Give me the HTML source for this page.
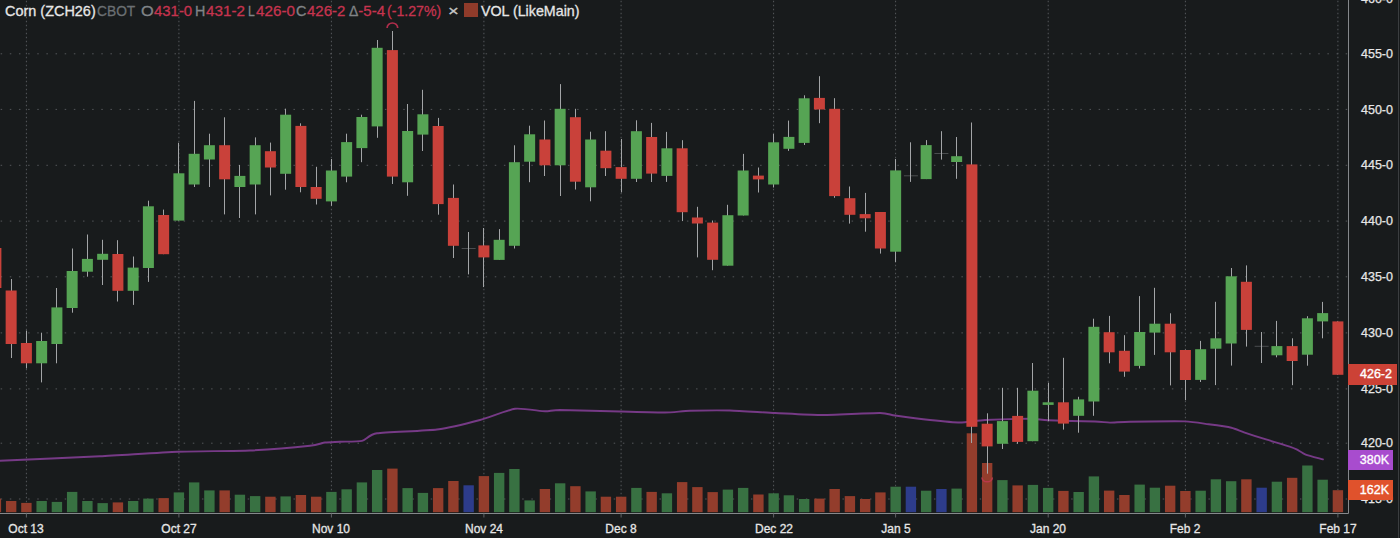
<!DOCTYPE html>
<html><head><meta charset="utf-8"><style>
html,body{margin:0;padding:0;background:#181b1c;}
body{width:1400px;height:538px;overflow:hidden;position:relative;font-family:"Liberation Sans",sans-serif;}
svg{position:absolute;left:0;top:0;}
.hs{position:absolute;top:2.3px;font-size:15px;line-height:17px;white-space:nowrap;transform-origin:0 0;-webkit-text-stroke:0.3px currentColor;}
.sw{position:absolute;left:464px;top:2.6px;width:14px;height:14px;background:#8f3b2a}
.pl{position:absolute;left:1349px;width:44px;text-align:right;font-size:12.5px;line-height:16px;color:#e6e6e6;-webkit-text-stroke:0.25px #e6e6e6;}
.dl{position:absolute;top:520.5px;width:80px;text-align:center;font-size:12.5px;line-height:16px;color:#e6e6e6;-webkit-text-stroke:0.3px #e6e6e6;transform:scaleX(0.96);}
.tag{position:absolute;left:1348px;width:49px;height:21px;color:#fff;font-size:12.5px;line-height:21px;text-align:right;box-sizing:border-box;padding-right:5px;-webkit-text-stroke:0.35px #fff}
</style></head><body>
<svg width="1400" height="538" viewBox="0 0 1400 538">
<g stroke="#54575a" stroke-width="1" stroke-dasharray="1.5 7.65" stroke-dashoffset="-0.65">
<line x1="0" y1="53.8" x2="1348" y2="53.8" />
<line x1="0" y1="109.4" x2="1348" y2="109.4" />
<line x1="0" y1="165.3" x2="1348" y2="165.3" />
<line x1="0" y1="221.1" x2="1348" y2="221.1" />
<line x1="0" y1="276.8" x2="1348" y2="276.8" />
<line x1="0" y1="332.9" x2="1348" y2="332.9" />
<line x1="0" y1="388.9" x2="1348" y2="388.9" />
<line x1="0" y1="443.2" x2="1348" y2="443.2" />
<line x1="0" y1="499.0" x2="1348" y2="499.0" />
</g>
<g stroke="#56595c" stroke-width="1" stroke-dasharray="1.5 2.5" stroke-dashoffset="-0.75">
<line x1="26.4" y1="0" x2="26.4" y2="513.5"/>
<line x1="178.9" y1="0" x2="178.9" y2="513.5"/>
<line x1="331.4" y1="0" x2="331.4" y2="513.5"/>
<line x1="483.9" y1="0" x2="483.9" y2="513.5"/>
<line x1="621.1" y1="0" x2="621.1" y2="513.5"/>
<line x1="773.6" y1="0" x2="773.6" y2="513.5"/>
<line x1="895.6" y1="0" x2="895.6" y2="513.5"/>
<line x1="1048.2" y1="0" x2="1048.2" y2="513.5"/>
<line x1="1185.4" y1="0" x2="1185.4" y2="513.5"/>
<line x1="1337.9" y1="0" x2="1337.9" y2="513.5"/>
</g>
<rect x="-9.30" y="498.6" width="10.4" height="13.6" fill="#933d2c"/>
<rect x="5.95" y="501.0" width="10.4" height="11.2" fill="#933d2c"/>
<rect x="21.20" y="502.9" width="10.4" height="9.3" fill="#933d2c"/>
<rect x="36.45" y="501.0" width="10.4" height="11.2" fill="#387142"/>
<rect x="51.70" y="501.9" width="10.4" height="10.3" fill="#387142"/>
<rect x="66.95" y="491.9" width="10.4" height="20.3" fill="#387142"/>
<rect x="82.20" y="501.0" width="10.4" height="11.2" fill="#387142"/>
<rect x="97.45" y="503.1" width="10.4" height="9.1" fill="#387142"/>
<rect x="112.70" y="502.4" width="10.4" height="9.8" fill="#933d2c"/>
<rect x="127.95" y="501.0" width="10.4" height="11.2" fill="#387142"/>
<rect x="143.20" y="498.6" width="10.4" height="13.6" fill="#387142"/>
<rect x="158.45" y="498.1" width="10.4" height="14.1" fill="#933d2c"/>
<rect x="173.70" y="492.4" width="10.4" height="19.8" fill="#387142"/>
<rect x="188.95" y="482.4" width="10.4" height="29.8" fill="#387142"/>
<rect x="204.20" y="490.4" width="10.4" height="21.8" fill="#387142"/>
<rect x="219.45" y="490.4" width="10.4" height="21.8" fill="#933d2c"/>
<rect x="234.70" y="494.7" width="10.4" height="17.5" fill="#387142"/>
<rect x="249.95" y="496.1" width="10.4" height="16.1" fill="#387142"/>
<rect x="265.20" y="496.7" width="10.4" height="15.5" fill="#933d2c"/>
<rect x="280.45" y="496.4" width="10.4" height="15.8" fill="#387142"/>
<rect x="295.70" y="495.0" width="10.4" height="17.2" fill="#933d2c"/>
<rect x="310.95" y="496.7" width="10.4" height="15.5" fill="#933d2c"/>
<rect x="326.20" y="491.9" width="10.4" height="20.3" fill="#387142"/>
<rect x="341.45" y="489.3" width="10.4" height="22.9" fill="#387142"/>
<rect x="356.70" y="482.4" width="10.4" height="29.8" fill="#387142"/>
<rect x="371.95" y="470.0" width="10.4" height="42.2" fill="#387142"/>
<rect x="387.20" y="468.6" width="10.4" height="43.6" fill="#933d2c"/>
<rect x="402.45" y="488.1" width="10.4" height="24.1" fill="#387142"/>
<rect x="417.70" y="492.9" width="10.4" height="19.3" fill="#387142"/>
<rect x="432.95" y="488.1" width="10.4" height="24.1" fill="#933d2c"/>
<rect x="448.20" y="481.0" width="10.4" height="31.2" fill="#933d2c"/>
<rect x="463.45" y="485.3" width="10.4" height="26.9" fill="#2d3c8b"/>
<rect x="478.70" y="476.1" width="10.4" height="36.1" fill="#933d2c"/>
<rect x="493.95" y="472.9" width="10.4" height="39.3" fill="#387142"/>
<rect x="509.20" y="469.0" width="10.4" height="43.2" fill="#387142"/>
<rect x="524.45" y="500.4" width="10.4" height="11.8" fill="#387142"/>
<rect x="539.70" y="489.0" width="10.4" height="23.2" fill="#933d2c"/>
<rect x="554.95" y="483.3" width="10.4" height="28.9" fill="#387142"/>
<rect x="570.20" y="486.2" width="10.4" height="26.0" fill="#933d2c"/>
<rect x="585.45" y="491.4" width="10.4" height="20.8" fill="#387142"/>
<rect x="600.70" y="496.7" width="10.4" height="15.5" fill="#933d2c"/>
<rect x="615.95" y="496.7" width="10.4" height="15.5" fill="#933d2c"/>
<rect x="631.20" y="487.9" width="10.4" height="24.3" fill="#387142"/>
<rect x="646.45" y="491.9" width="10.4" height="20.3" fill="#933d2c"/>
<rect x="661.70" y="493.3" width="10.4" height="18.9" fill="#387142"/>
<rect x="676.95" y="482.1" width="10.4" height="30.1" fill="#933d2c"/>
<rect x="692.20" y="487.1" width="10.4" height="25.1" fill="#933d2c"/>
<rect x="707.45" y="492.1" width="10.4" height="20.1" fill="#933d2c"/>
<rect x="722.70" y="489.6" width="10.4" height="22.6" fill="#387142"/>
<rect x="737.95" y="487.9" width="10.4" height="24.3" fill="#387142"/>
<rect x="753.20" y="494.5" width="10.4" height="17.7" fill="#933d2c"/>
<rect x="768.45" y="493.3" width="10.4" height="18.9" fill="#387142"/>
<rect x="783.70" y="495.3" width="10.4" height="16.9" fill="#387142"/>
<rect x="798.95" y="499.0" width="10.4" height="13.2" fill="#387142"/>
<rect x="814.20" y="498.6" width="10.4" height="13.6" fill="#933d2c"/>
<rect x="829.45" y="489.0" width="10.4" height="23.2" fill="#933d2c"/>
<rect x="844.70" y="496.1" width="10.4" height="16.1" fill="#933d2c"/>
<rect x="859.95" y="499.0" width="10.4" height="13.2" fill="#933d2c"/>
<rect x="875.20" y="492.4" width="10.4" height="19.8" fill="#933d2c"/>
<rect x="890.45" y="486.7" width="10.4" height="25.5" fill="#387142"/>
<rect x="905.70" y="486.7" width="10.4" height="25.5" fill="#2d3c8b"/>
<rect x="920.95" y="490.7" width="10.4" height="21.5" fill="#387142"/>
<rect x="936.20" y="489.0" width="10.4" height="23.2" fill="#2d3c8b"/>
<rect x="951.45" y="488.6" width="10.4" height="23.6" fill="#387142"/>
<rect x="966.70" y="433.3" width="10.4" height="78.9" fill="#933d2c"/>
<rect x="981.95" y="463.0" width="10.4" height="49.2" fill="#933d2c"/>
<rect x="997.20" y="480.1" width="10.4" height="32.1" fill="#387142"/>
<rect x="1012.45" y="485.4" width="10.4" height="26.8" fill="#933d2c"/>
<rect x="1027.70" y="484.9" width="10.4" height="27.3" fill="#387142"/>
<rect x="1042.95" y="487.9" width="10.4" height="24.3" fill="#387142"/>
<rect x="1058.20" y="490.9" width="10.4" height="21.3" fill="#933d2c"/>
<rect x="1073.45" y="492.0" width="10.4" height="20.2" fill="#387142"/>
<rect x="1088.70" y="476.4" width="10.4" height="35.8" fill="#387142"/>
<rect x="1103.95" y="490.6" width="10.4" height="21.6" fill="#933d2c"/>
<rect x="1119.20" y="495.0" width="10.4" height="17.2" fill="#933d2c"/>
<rect x="1134.45" y="484.6" width="10.4" height="27.6" fill="#387142"/>
<rect x="1149.70" y="487.7" width="10.4" height="24.5" fill="#387142"/>
<rect x="1164.95" y="485.7" width="10.4" height="26.5" fill="#933d2c"/>
<rect x="1180.20" y="491.0" width="10.4" height="21.2" fill="#933d2c"/>
<rect x="1195.45" y="490.7" width="10.4" height="21.5" fill="#387142"/>
<rect x="1210.70" y="479.3" width="10.4" height="32.9" fill="#387142"/>
<rect x="1225.95" y="481.2" width="10.4" height="31.0" fill="#387142"/>
<rect x="1241.20" y="479.3" width="10.4" height="32.9" fill="#933d2c"/>
<rect x="1256.45" y="487.7" width="10.4" height="24.5" fill="#2d3c8b"/>
<rect x="1271.70" y="481.7" width="10.4" height="30.5" fill="#387142"/>
<rect x="1286.95" y="477.8" width="10.4" height="34.4" fill="#933d2c"/>
<rect x="1302.20" y="465.5" width="10.4" height="46.7" fill="#387142"/>
<rect x="1317.45" y="479.7" width="10.4" height="32.5" fill="#387142"/>
<rect x="1332.70" y="490.2" width="10.4" height="22.0" fill="#933d2c"/>
<path d="M0.0,460.8 C10.0,460.4 82.2,457.2 100.0,456.3 C117.8,455.4 163.0,452.4 178.0,451.8 C193.0,451.2 236.8,451.1 250.0,450.5 C263.2,449.9 302.5,446.6 310.0,445.8 C317.5,445.0 322.0,442.9 325.0,442.5 C328.0,442.1 336.3,442.0 340.0,441.8 C343.7,441.6 358.3,441.7 362.0,440.8 C365.7,439.9 369.5,434.4 377.0,433.3 C384.5,432.2 426.7,430.8 437.0,429.5 C447.3,428.2 472.2,422.1 480.0,420.0 C487.8,417.9 508.5,409.7 515.0,408.8 C521.5,407.9 540.5,411.2 545.0,411.3 C549.5,411.4 552.5,410.0 560.0,410.0 C567.5,410.0 609.5,411.2 620.0,411.5 C630.5,411.8 658.0,412.6 665.0,412.5 C672.0,412.4 683.5,411.0 690.0,410.8 C696.5,410.6 721.5,410.3 730.0,410.5 C738.5,410.7 766.0,412.6 775.0,413.0 C784.0,413.4 809.5,415.0 820.0,415.0 C830.5,415.0 872.5,412.9 880.0,413.0 C887.5,413.1 890.0,414.8 895.0,415.5 C900.0,416.2 923.5,419.3 930.0,420.0 C936.5,420.7 954.5,422.5 960.0,422.5 C965.5,422.5 978.0,420.4 985.0,420.0 C992.0,419.6 1023.7,418.8 1030.0,418.8 C1036.3,418.8 1041.5,420.0 1048.0,420.3 C1054.5,420.6 1088.8,421.3 1095.0,421.5 C1101.2,421.7 1106.5,422.6 1110.0,422.6 C1113.5,422.6 1122.5,421.8 1130.0,421.7 C1137.5,421.6 1177.1,421.1 1185.0,421.4 C1192.9,421.7 1204.0,423.7 1208.6,424.3 C1213.2,424.9 1227.9,426.9 1231.4,427.7 C1234.9,428.5 1240.5,431.1 1244.0,432.3 C1247.5,433.5 1262.3,438.3 1266.9,439.7 C1271.5,441.1 1286.7,445.6 1289.7,446.6 C1292.7,447.6 1295.0,448.6 1296.6,449.4 C1298.2,450.2 1303.1,453.6 1305.7,454.6 C1308.3,455.6 1321.2,458.9 1322.9,459.4" fill="none" stroke="#763a86" stroke-width="1.9" stroke-linecap="round"/>
<line x1="-4.50" y1="244.0" x2="-4.50" y2="292.0" stroke="#a3a5a7" stroke-width="1"/>
<rect x="-9.60" y="248.0" width="11.0" height="40.0" fill="#c9413a"/>
<line x1="11.50" y1="279.0" x2="11.50" y2="358.0" stroke="#a3a5a7" stroke-width="1"/>
<rect x="5.65" y="290.5" width="11.0" height="53.5" fill="#c9413a"/>
<line x1="26.50" y1="330.6" x2="26.50" y2="368.4" stroke="#a3a5a7" stroke-width="1"/>
<rect x="20.90" y="343.0" width="11.0" height="20.3" fill="#c9413a"/>
<line x1="41.50" y1="332.7" x2="41.50" y2="382.4" stroke="#a3a5a7" stroke-width="1"/>
<rect x="36.15" y="341.0" width="11.0" height="22.3" fill="#56a454"/>
<line x1="56.50" y1="288.0" x2="56.50" y2="363.3" stroke="#a3a5a7" stroke-width="1"/>
<rect x="51.40" y="307.4" width="11.0" height="36.6" fill="#56a454"/>
<line x1="72.50" y1="248.5" x2="72.50" y2="312.7" stroke="#a3a5a7" stroke-width="1"/>
<rect x="66.65" y="271.0" width="11.0" height="37.0" fill="#56a454"/>
<line x1="87.50" y1="234.5" x2="87.50" y2="276.7" stroke="#a3a5a7" stroke-width="1"/>
<rect x="81.90" y="258.9" width="11.0" height="12.8" fill="#56a454"/>
<line x1="102.50" y1="239.8" x2="102.50" y2="285.0" stroke="#a3a5a7" stroke-width="1"/>
<rect x="97.15" y="253.8" width="11.0" height="6.0" fill="#56a454"/>
<line x1="117.50" y1="240.2" x2="117.50" y2="301.5" stroke="#a3a5a7" stroke-width="1"/>
<rect x="112.40" y="254.0" width="11.0" height="36.8" fill="#c9413a"/>
<line x1="133.50" y1="256.5" x2="133.50" y2="304.9" stroke="#a3a5a7" stroke-width="1"/>
<rect x="127.65" y="267.6" width="11.0" height="23.2" fill="#56a454"/>
<line x1="148.50" y1="200.7" x2="148.50" y2="281.9" stroke="#a3a5a7" stroke-width="1"/>
<rect x="142.90" y="206.3" width="11.0" height="61.7" fill="#56a454"/>
<line x1="163.50" y1="209.6" x2="163.50" y2="254.2" stroke="#a3a5a7" stroke-width="1"/>
<rect x="158.15" y="215.0" width="11.0" height="39.2" fill="#c9413a"/>
<line x1="178.50" y1="142.8" x2="178.50" y2="220.6" stroke="#a3a5a7" stroke-width="1"/>
<rect x="173.40" y="173.3" width="11.0" height="47.3" fill="#56a454"/>
<line x1="194.50" y1="100.9" x2="194.50" y2="187.0" stroke="#a3a5a7" stroke-width="1"/>
<rect x="188.65" y="153.8" width="11.0" height="30.7" fill="#56a454"/>
<line x1="209.50" y1="133.7" x2="209.50" y2="187.0" stroke="#a3a5a7" stroke-width="1"/>
<rect x="203.90" y="145.2" width="11.0" height="14.3" fill="#56a454"/>
<line x1="224.50" y1="117.3" x2="224.50" y2="214.4" stroke="#a3a5a7" stroke-width="1"/>
<rect x="219.15" y="145.2" width="11.0" height="34.1" fill="#c9413a"/>
<line x1="239.50" y1="165.0" x2="239.50" y2="218.0" stroke="#a3a5a7" stroke-width="1"/>
<rect x="234.40" y="175.9" width="11.0" height="11.1" fill="#56a454"/>
<line x1="255.50" y1="137.4" x2="255.50" y2="214.4" stroke="#a3a5a7" stroke-width="1"/>
<rect x="249.65" y="145.2" width="11.0" height="39.3" fill="#56a454"/>
<line x1="270.50" y1="142.6" x2="270.50" y2="195.4" stroke="#a3a5a7" stroke-width="1"/>
<rect x="264.90" y="151.2" width="11.0" height="16.3" fill="#c9413a"/>
<line x1="285.50" y1="108.7" x2="285.50" y2="189.7" stroke="#a3a5a7" stroke-width="1"/>
<rect x="280.15" y="114.7" width="11.0" height="59.1" fill="#56a454"/>
<line x1="300.50" y1="123.3" x2="300.50" y2="192.3" stroke="#a3a5a7" stroke-width="1"/>
<rect x="295.40" y="125.9" width="11.0" height="61.1" fill="#c9413a"/>
<line x1="316.50" y1="166.8" x2="316.50" y2="204.5" stroke="#a3a5a7" stroke-width="1"/>
<rect x="310.65" y="187.0" width="11.0" height="11.8" fill="#c9413a"/>
<line x1="331.50" y1="159.0" x2="331.50" y2="205.8" stroke="#a3a5a7" stroke-width="1"/>
<rect x="325.90" y="170.5" width="11.0" height="30.9" fill="#56a454"/>
<line x1="346.50" y1="133.7" x2="346.50" y2="182.3" stroke="#a3a5a7" stroke-width="1"/>
<rect x="341.15" y="142.1" width="11.0" height="34.5" fill="#56a454"/>
<line x1="361.50" y1="114.7" x2="361.50" y2="162.2" stroke="#a3a5a7" stroke-width="1"/>
<rect x="356.40" y="117.0" width="11.0" height="31.1" fill="#56a454"/>
<line x1="377.50" y1="40.0" x2="377.50" y2="137.8" stroke="#a3a5a7" stroke-width="1"/>
<rect x="371.65" y="47.8" width="11.0" height="78.6" fill="#56a454"/>
<line x1="392.50" y1="31.0" x2="392.50" y2="184.0" stroke="#a3a5a7" stroke-width="1"/>
<rect x="386.90" y="50.1" width="11.0" height="126.5" fill="#c9413a"/>
<line x1="407.50" y1="104.0" x2="407.50" y2="195.8" stroke="#a3a5a7" stroke-width="1"/>
<rect x="402.15" y="131.0" width="11.0" height="51.3" fill="#56a454"/>
<line x1="422.50" y1="89.8" x2="422.50" y2="151.0" stroke="#a3a5a7" stroke-width="1"/>
<rect x="417.40" y="114.3" width="11.0" height="20.3" fill="#56a454"/>
<line x1="438.50" y1="117.9" x2="438.50" y2="214.7" stroke="#a3a5a7" stroke-width="1"/>
<rect x="432.65" y="126.0" width="11.0" height="78.1" fill="#c9413a"/>
<line x1="453.50" y1="184.5" x2="453.50" y2="258.0" stroke="#a3a5a7" stroke-width="1"/>
<rect x="447.90" y="197.9" width="11.0" height="47.9" fill="#c9413a"/>
<line x1="461.65" y1="248.5" x2="475.65" y2="248.5" stroke="#4a4d4f" stroke-width="1"/>
<line x1="468.50" y1="232.0" x2="468.50" y2="274.4" stroke="#a3a5a7" stroke-width="1"/>
<line x1="483.50" y1="228.0" x2="483.50" y2="287.1" stroke="#a3a5a7" stroke-width="1"/>
<rect x="478.40" y="245.4" width="11.0" height="12.0" fill="#c9413a"/>
<line x1="499.50" y1="229.1" x2="499.50" y2="259.9" stroke="#a3a5a7" stroke-width="1"/>
<rect x="493.65" y="239.8" width="11.0" height="20.1" fill="#56a454"/>
<line x1="514.50" y1="145.3" x2="514.50" y2="248.5" stroke="#a3a5a7" stroke-width="1"/>
<rect x="508.90" y="162.2" width="11.0" height="83.6" fill="#56a454"/>
<line x1="529.50" y1="125.7" x2="529.50" y2="182.2" stroke="#a3a5a7" stroke-width="1"/>
<rect x="524.15" y="134.3" width="11.0" height="27.4" fill="#56a454"/>
<line x1="544.50" y1="120.5" x2="544.50" y2="176.0" stroke="#a3a5a7" stroke-width="1"/>
<rect x="539.40" y="139.5" width="11.0" height="25.8" fill="#c9413a"/>
<line x1="560.50" y1="84.1" x2="560.50" y2="196.0" stroke="#a3a5a7" stroke-width="1"/>
<rect x="554.65" y="108.8" width="11.0" height="56.5" fill="#56a454"/>
<line x1="575.50" y1="108.8" x2="575.50" y2="189.5" stroke="#a3a5a7" stroke-width="1"/>
<rect x="569.90" y="117.2" width="11.0" height="64.5" fill="#c9413a"/>
<line x1="590.50" y1="131.7" x2="590.50" y2="201.3" stroke="#a3a5a7" stroke-width="1"/>
<rect x="585.15" y="139.5" width="11.0" height="47.8" fill="#56a454"/>
<line x1="605.50" y1="131.2" x2="605.50" y2="176.0" stroke="#a3a5a7" stroke-width="1"/>
<rect x="600.40" y="150.7" width="11.0" height="17.5" fill="#c9413a"/>
<line x1="621.50" y1="139.0" x2="621.50" y2="192.4" stroke="#a3a5a7" stroke-width="1"/>
<rect x="615.65" y="167.1" width="11.0" height="11.7" fill="#c9413a"/>
<line x1="636.50" y1="120.3" x2="636.50" y2="182.0" stroke="#a3a5a7" stroke-width="1"/>
<rect x="630.90" y="131.2" width="11.0" height="47.6" fill="#56a454"/>
<line x1="651.50" y1="122.9" x2="651.50" y2="182.0" stroke="#a3a5a7" stroke-width="1"/>
<rect x="646.15" y="137.0" width="11.0" height="36.6" fill="#c9413a"/>
<line x1="666.50" y1="131.9" x2="666.50" y2="181.9" stroke="#a3a5a7" stroke-width="1"/>
<rect x="661.40" y="148.3" width="11.0" height="27.6" fill="#56a454"/>
<line x1="682.50" y1="140.2" x2="682.50" y2="221.1" stroke="#a3a5a7" stroke-width="1"/>
<rect x="676.65" y="148.3" width="11.0" height="63.9" fill="#c9413a"/>
<line x1="697.50" y1="206.8" x2="697.50" y2="257.4" stroke="#a3a5a7" stroke-width="1"/>
<rect x="691.90" y="217.5" width="11.0" height="6.0" fill="#c9413a"/>
<line x1="712.50" y1="220.5" x2="712.50" y2="270.2" stroke="#a3a5a7" stroke-width="1"/>
<rect x="707.15" y="222.6" width="11.0" height="37.2" fill="#c9413a"/>
<line x1="727.50" y1="204.8" x2="727.50" y2="265.7" stroke="#a3a5a7" stroke-width="1"/>
<rect x="722.40" y="215.2" width="11.0" height="50.5" fill="#56a454"/>
<line x1="743.50" y1="153.9" x2="743.50" y2="215.5" stroke="#a3a5a7" stroke-width="1"/>
<rect x="737.65" y="170.5" width="11.0" height="45.0" fill="#56a454"/>
<line x1="758.50" y1="167.5" x2="758.50" y2="192.5" stroke="#a3a5a7" stroke-width="1"/>
<rect x="752.90" y="175.6" width="11.0" height="3.8" fill="#c9413a"/>
<line x1="773.50" y1="134.0" x2="773.50" y2="187.5" stroke="#a3a5a7" stroke-width="1"/>
<rect x="768.15" y="142.3" width="11.0" height="42.2" fill="#56a454"/>
<line x1="788.50" y1="120.6" x2="788.50" y2="150.9" stroke="#a3a5a7" stroke-width="1"/>
<rect x="783.40" y="136.9" width="11.0" height="11.9" fill="#56a454"/>
<line x1="804.50" y1="95.3" x2="804.50" y2="145.0" stroke="#a3a5a7" stroke-width="1"/>
<rect x="798.65" y="98.3" width="11.0" height="44.6" fill="#56a454"/>
<line x1="819.50" y1="76.2" x2="819.50" y2="123.2" stroke="#a3a5a7" stroke-width="1"/>
<rect x="813.90" y="97.9" width="11.0" height="11.6" fill="#c9413a"/>
<line x1="834.50" y1="98.2" x2="834.50" y2="197.8" stroke="#a3a5a7" stroke-width="1"/>
<rect x="829.15" y="108.8" width="11.0" height="87.3" fill="#c9413a"/>
<line x1="849.50" y1="186.5" x2="849.50" y2="223.6" stroke="#a3a5a7" stroke-width="1"/>
<rect x="844.40" y="198.2" width="11.0" height="16.6" fill="#c9413a"/>
<line x1="865.50" y1="192.9" x2="865.50" y2="231.7" stroke="#a3a5a7" stroke-width="1"/>
<rect x="859.65" y="214.1" width="11.0" height="4.2" fill="#c9413a"/>
<line x1="880.50" y1="212.0" x2="880.50" y2="253.6" stroke="#a3a5a7" stroke-width="1"/>
<rect x="874.90" y="212.0" width="11.0" height="36.5" fill="#c9413a"/>
<line x1="895.50" y1="159.0" x2="895.50" y2="262.2" stroke="#a3a5a7" stroke-width="1"/>
<rect x="890.15" y="170.4" width="11.0" height="81.3" fill="#56a454"/>
<line x1="903.90" y1="175.8" x2="917.90" y2="175.8" stroke="#4a4d4f" stroke-width="1"/>
<line x1="910.50" y1="142.3" x2="910.50" y2="181.9" stroke="#a3a5a7" stroke-width="1"/>
<line x1="926.50" y1="140.1" x2="926.50" y2="179.1" stroke="#a3a5a7" stroke-width="1"/>
<rect x="920.65" y="145.1" width="11.0" height="34.0" fill="#56a454"/>
<line x1="934.40" y1="153.5" x2="948.40" y2="153.5" stroke="#4a4d4f" stroke-width="1"/>
<line x1="941.50" y1="131.2" x2="941.50" y2="159.6" stroke="#a3a5a7" stroke-width="1"/>
<line x1="956.50" y1="137.0" x2="956.50" y2="178.8" stroke="#a3a5a7" stroke-width="1"/>
<rect x="951.15" y="156.2" width="11.0" height="5.8" fill="#56a454"/>
<line x1="971.50" y1="122.5" x2="971.50" y2="443.0" stroke="#a3a5a7" stroke-width="1"/>
<rect x="966.40" y="164.4" width="11.0" height="262.4" fill="#c9413a"/>
<line x1="987.50" y1="413.3" x2="987.50" y2="473.7" stroke="#a3a5a7" stroke-width="1"/>
<rect x="981.65" y="423.7" width="11.0" height="22.7" fill="#c9413a"/>
<line x1="1002.50" y1="387.8" x2="1002.50" y2="449.0" stroke="#a3a5a7" stroke-width="1"/>
<rect x="996.90" y="421.1" width="11.0" height="22.7" fill="#56a454"/>
<line x1="1017.50" y1="387.8" x2="1017.50" y2="443.8" stroke="#a3a5a7" stroke-width="1"/>
<rect x="1012.15" y="415.9" width="11.0" height="26.0" fill="#c9413a"/>
<line x1="1032.50" y1="363.0" x2="1032.50" y2="441.2" stroke="#a3a5a7" stroke-width="1"/>
<rect x="1027.40" y="390.7" width="11.0" height="50.5" fill="#56a454"/>
<line x1="1048.50" y1="382.7" x2="1048.50" y2="421.0" stroke="#a3a5a7" stroke-width="1"/>
<rect x="1042.65" y="402.3" width="11.0" height="2.6" fill="#56a454"/>
<line x1="1063.50" y1="357.8" x2="1063.50" y2="429.6" stroke="#a3a5a7" stroke-width="1"/>
<rect x="1057.90" y="402.3" width="11.0" height="21.3" fill="#c9413a"/>
<line x1="1078.50" y1="396.8" x2="1078.50" y2="432.7" stroke="#a3a5a7" stroke-width="1"/>
<rect x="1073.15" y="399.4" width="11.0" height="16.4" fill="#56a454"/>
<line x1="1093.50" y1="318.7" x2="1093.50" y2="415.8" stroke="#a3a5a7" stroke-width="1"/>
<rect x="1088.40" y="326.8" width="11.0" height="74.7" fill="#56a454"/>
<line x1="1109.50" y1="315.9" x2="1109.50" y2="363.3" stroke="#a3a5a7" stroke-width="1"/>
<rect x="1103.65" y="332.2" width="11.0" height="20.1" fill="#c9413a"/>
<line x1="1124.50" y1="335.2" x2="1124.50" y2="376.8" stroke="#a3a5a7" stroke-width="1"/>
<rect x="1118.90" y="350.8" width="11.0" height="20.8" fill="#c9413a"/>
<line x1="1139.50" y1="296.1" x2="1139.50" y2="368.5" stroke="#a3a5a7" stroke-width="1"/>
<rect x="1134.15" y="332.0" width="11.0" height="33.9" fill="#56a454"/>
<line x1="1154.50" y1="287.8" x2="1154.50" y2="354.9" stroke="#a3a5a7" stroke-width="1"/>
<rect x="1149.40" y="323.7" width="11.0" height="8.9" fill="#56a454"/>
<line x1="1170.50" y1="313.3" x2="1170.50" y2="385.4" stroke="#a3a5a7" stroke-width="1"/>
<rect x="1164.65" y="323.7" width="11.0" height="28.6" fill="#c9413a"/>
<line x1="1185.50" y1="349.7" x2="1185.50" y2="400.2" stroke="#a3a5a7" stroke-width="1"/>
<rect x="1179.90" y="350.0" width="11.0" height="30.0" fill="#c9413a"/>
<line x1="1200.50" y1="340.9" x2="1200.50" y2="382.0" stroke="#a3a5a7" stroke-width="1"/>
<rect x="1195.15" y="349.2" width="11.0" height="30.7" fill="#56a454"/>
<line x1="1215.50" y1="301.8" x2="1215.50" y2="385.1" stroke="#a3a5a7" stroke-width="1"/>
<rect x="1210.40" y="338.3" width="11.0" height="10.4" fill="#56a454"/>
<line x1="1231.50" y1="268.0" x2="1231.50" y2="365.6" stroke="#a3a5a7" stroke-width="1"/>
<rect x="1225.65" y="276.3" width="11.0" height="67.2" fill="#56a454"/>
<line x1="1246.50" y1="265.4" x2="1246.50" y2="346.6" stroke="#a3a5a7" stroke-width="1"/>
<rect x="1240.90" y="281.8" width="11.0" height="48.1" fill="#c9413a"/>
<line x1="1254.65" y1="346.3" x2="1268.65" y2="346.3" stroke="#4a4d4f" stroke-width="1"/>
<line x1="1261.50" y1="332.0" x2="1261.50" y2="363.0" stroke="#a3a5a7" stroke-width="1"/>
<line x1="1276.50" y1="320.9" x2="1276.50" y2="357.3" stroke="#a3a5a7" stroke-width="1"/>
<rect x="1271.40" y="346.1" width="11.0" height="9.2" fill="#56a454"/>
<line x1="1292.50" y1="338.3" x2="1292.50" y2="385.2" stroke="#a3a5a7" stroke-width="1"/>
<rect x="1286.65" y="346.1" width="11.0" height="14.9" fill="#c9413a"/>
<line x1="1307.50" y1="316.2" x2="1307.50" y2="365.7" stroke="#a3a5a7" stroke-width="1"/>
<rect x="1301.90" y="318.3" width="11.0" height="36.4" fill="#56a454"/>
<line x1="1322.50" y1="301.9" x2="1322.50" y2="338.3" stroke="#a3a5a7" stroke-width="1"/>
<rect x="1317.15" y="313.1" width="11.0" height="8.3" fill="#56a454"/>
<line x1="1337.50" y1="321.4" x2="1337.50" y2="374.8" stroke="#a3a5a7" stroke-width="1"/>
<rect x="1332.40" y="321.4" width="11.0" height="53.4" fill="#c9413a"/>
<path d="M387.1,28 A5.3,5 0 0 1 397.7,28" fill="none" stroke="#b02e4c" stroke-width="1.7"/>
<path d="M981.9,477.5 A5.3,5 0 0 0 992.4,477.5" fill="none" stroke="#b8384a" stroke-width="1.5"/>
<line x1="0" y1="513.5" x2="1348.5" y2="513.5" stroke="#85888b" stroke-width="1"/>
<line x1="1348.5" y1="0" x2="1348.5" y2="513.5" stroke="#85888b" stroke-width="1"/>
<line x1="1398.5" y1="0" x2="1398.5" y2="538" stroke="#3a3d3f" stroke-width="1"/>
<line x1="26.4" y1="513.5" x2="26.4" y2="517.5" stroke="#5f6264" stroke-width="1"/>
<line x1="178.9" y1="513.5" x2="178.9" y2="517.5" stroke="#5f6264" stroke-width="1"/>
<line x1="331.4" y1="513.5" x2="331.4" y2="517.5" stroke="#5f6264" stroke-width="1"/>
<line x1="483.9" y1="513.5" x2="483.9" y2="517.5" stroke="#5f6264" stroke-width="1"/>
<line x1="621.1" y1="513.5" x2="621.1" y2="517.5" stroke="#5f6264" stroke-width="1"/>
<line x1="773.6" y1="513.5" x2="773.6" y2="517.5" stroke="#5f6264" stroke-width="1"/>
<line x1="895.6" y1="513.5" x2="895.6" y2="517.5" stroke="#5f6264" stroke-width="1"/>
<line x1="1048.2" y1="513.5" x2="1048.2" y2="517.5" stroke="#5f6264" stroke-width="1"/>
<line x1="1185.4" y1="513.5" x2="1185.4" y2="517.5" stroke="#5f6264" stroke-width="1"/>
<line x1="1337.9" y1="513.5" x2="1337.9" y2="517.5" stroke="#5f6264" stroke-width="1"/>
</svg>
<div class="pl" style="top:45.9px">455-0</div><div class="pl" style="top:101.5px">450-0</div><div class="pl" style="top:157.4px">445-0</div><div class="pl" style="top:213.2px">440-0</div><div class="pl" style="top:268.9px">435-0</div><div class="pl" style="top:325.0px">430-0</div><div class="pl" style="top:381.0px">425-0</div><div class="pl" style="top:435.3px">420-0</div><div class="pl" style="top:491.1px">415-0</div><div class="pl" style="top:-9px">460-0</div>
<div class="dl" style="left:-13.6px">Oct 13</div><div class="dl" style="left:138.9px">Oct 27</div><div class="dl" style="left:291.4px">Nov 10</div><div class="dl" style="left:443.9px">Nov 24</div><div class="dl" style="left:581.1px">Dec 8</div><div class="dl" style="left:733.6px">Dec 22</div><div class="dl" style="left:855.6px">Jan 5</div><div class="dl" style="left:1008.2px">Jan 20</div><div class="dl" style="left:1145.4px">Feb 2</div><div class="dl" style="left:1297.9px">Feb 17</div>
<div class="tag" style="top:364px;background:#cc4236">426-2</div>
<div class="tag" style="top:449.5px;height:20px;line-height:20px;width:45px;background:#a84cce;padding-right:4px">380K</div>
<div class="tag" style="top:480px;height:20px;line-height:20px;width:45px;background:#e0522c;padding-right:4px">162K</div>
<span class="hs" style="left:4.74px;color:#e6e6e6;transform:scaleX(0.963)">Corn (ZCH26)</span><span class="hs" style="left:97.38px;color:#6b7073;transform:scaleX(0.918)">CBOT</span><span class="hs" style="left:140.91px;color:#808487;transform:scaleX(1.090)">O</span><span class="hs" style="left:153.60px;color:#c6344f;transform:scaleX(0.995)">431-0</span><span class="hs" style="left:194.74px;color:#808487;transform:scaleX(0.956)">H</span><span class="hs" style="left:205.70px;color:#c6344f;transform:scaleX(1.016)">431-2</span><span class="hs" style="left:247.79px;color:#808487;transform:scaleX(0.814)">L</span><span class="hs" style="left:255.70px;color:#c6344f;transform:scaleX(1.016)">426-0</span><span class="hs" style="left:296.03px;color:#808487;transform:scaleX(0.967)">C</span><span class="hs" style="left:307.00px;color:#c6344f;transform:scaleX(1.000)">426-2</span><span class="hs" style="left:348.60px;color:#808487;transform:scaleX(0.930)">&#916;</span><span class="hs" style="left:358.30px;color:#c6344f;transform:scaleX(1.000)">-5-4</span><span class="hs" style="left:386.96px;color:#c6344f;transform:scaleX(0.943)">(-1.27%)</span><span class="hs" style="left:448.07px;color:#c8c8c8;transform:scaleX(1.229)">&#215;</span><span class="hs" style="left:480.70px;color:#e6e6e6;transform:scaleX(0.950)">VOL (LikeMain)</span><div class="sw"></div>
</body></html>
